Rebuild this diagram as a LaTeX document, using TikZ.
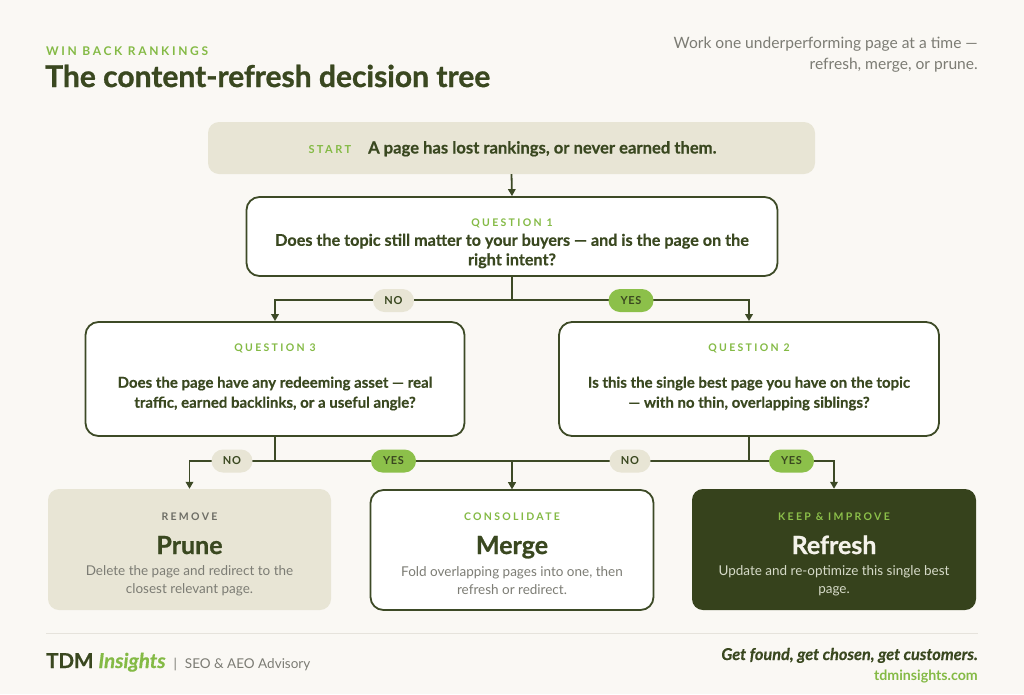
\documentclass[tikz,border=0pt]{standalone}
\usepackage{fontspec}
\setmainfont{Lato}
\usetikzlibrary{arrows.meta}
\definecolor{bg}{HTML}{FAF8F4}
\definecolor{dk}{HTML}{3A4820}
\definecolor{bd}{HTML}{3D4A26}
\definecolor{refill}{HTML}{36421C}
\definecolor{grn}{HTML}{84BA45}
\definecolor{pillg}{HTML}{8CC04A}
\definecolor{beige}{HTML}{E8E5D5}
\definecolor{gry}{HTML}{7C7C74}
\definecolor{gry2}{HTML}{6E6E66}
\definecolor{lt}{HTML}{D6DAC8}
\definecolor{ltw}{HTML}{F4F2EA}
\definecolor{rulec}{HTML}{E6E3DC}
\tikzset{
  qbox/.style={draw=bd, line width=1.8pt, fill=white, rounded corners=13pt, inner sep=0pt},
  sbox/.style={fill=beige, rounded corners=11pt, inner sep=0pt},
  conn/.style={draw=bd, line width=1.8pt},
  arr/.style={draw=bd, line width=1.8pt, -{Triangle[length=7pt,width=7.5pt]}},
  pill/.style={rounded corners=11.5pt, minimum height=23pt, inner sep=0pt, text=dk,
    font={\fontsize{11}{13}\selectfont\bfseries\addfontfeatures{LetterSpace=6}}},
  nopill/.style={pill, fill=beige, minimum width=41pt},
  yespill/.style={pill, fill=pillg, minimum width=45pt},
  caplab/.style={inner sep=0pt, anchor=base,
    font={\fontsize{10.5}{13}\selectfont\bfseries\addfontfeatures{LetterSpace=22}}},
  qtext/.style={inner sep=0pt, align=center, text=dk,
    font={\fontsize{15}{20}\selectfont\bfseries\addfontfeatures{FakeBold=0.4}}},
  ttl/.style={inner sep=0pt, anchor=base, font={\fontsize{25}{28}\selectfont\bfseries\addfontfeatures{FakeBold=0.8}}},
  desc/.style={inner sep=0pt, align=center, font={\fontsize{13.5}{18}\selectfont}},
}
\begin{document}
\begin{tikzpicture}[x=1pt,y=-1pt]
\fill[bg] (0,0) rectangle (1024,694);
\useasboundingbox (0,0) rectangle (1024,694);

% header
\node[inner sep=0pt, anchor=base west, text=grn,
  font={\fontsize{12}{14}\selectfont\bfseries\addfontfeatures{LetterSpace=22}}] (kicker) at (46,55) {WIN BACK RANKINGS};
\node[inner sep=0pt, anchor=base west, text=dk, font={\fontsize{30}{34}\selectfont\bfseries\addfontfeatures{FakeBold=1}}] (title) at (45,87) {The content-refresh decision tree};
\node[inner sep=0pt, anchor=base east, text=gry, font={\fontsize{15.6}{18}\selectfont}] (sub1) at (978,48) {Work one underperforming page at a time —};
\node[inner sep=0pt, anchor=base east, text=gry, font={\fontsize{15.6}{18}\selectfont}] (sub2) at (978,69) {refresh, merge, or prune.};

% boxes
\node[sbox, minimum width=607pt, minimum height=52pt] (start) at (511.5,148) {};
\node[inner sep=0pt, anchor=base, text=dk, font={\fontsize{16.6}{18}\selectfont\bfseries\addfontfeatures{FakeBold=0.4}}] (starttxt) at (512.5,153.5)
  {{\color{grn}\fontsize{11}{13}\selectfont\addfontfeatures{LetterSpace=22,FakeBold=0}START}\hspace{17pt}A page has lost rankings, or never earned them.};

\node[qbox, minimum width=531pt, minimum height=79pt] (q1) at (512,236.5) {};
\node[caplab, text=grn] (q1lab) at (512,226) {QUESTION 1};
\node[qtext, font={\fontsize{16.2}{19.5}\selectfont\bfseries\addfontfeatures{FakeBold=0.4}}] (q1txt) at (512,251) {Does the topic still matter to your buyers — and is the page on the\\right intent?};

\node[qbox, minimum width=379pt, minimum height=114pt] (q3) at (275,379) {};
\node[caplab, text=grn] (q3lab) at (275,351) {QUESTION 3};
\node[qtext] (q3txt) at (275,393.5) {Does the page have any redeeming asset — real\\traffic, earned backlinks, or a useful angle?};

\node[qbox, minimum width=380pt, minimum height=114pt] (q2) at (749,379) {};
\node[caplab, text=grn] (q2lab) at (749,351) {QUESTION 2};
\node[qtext] (q2txt) at (749,393.5) {Is this the single best page you have on the topic\\— with no thin, overlapping siblings?};

% outcomes
\node[sbox, minimum width=283pt, minimum height=121pt] (prune) at (189.5,549.5) {};
\node[caplab, text=gry2] (prunelab) at (189.5,520) {REMOVE};
\node[ttl, text=dk] (prunettl) at (189.5,554) {Prune};
\node[desc, text=gry] (prunedesc) at (189.5,581) {Delete the page and redirect to the\\closest relevant page.};

\node[qbox, minimum width=283pt, minimum height=120pt] (merge) at (512,550) {};
\node[caplab, text=grn] (mergelab) at (512,520) {CONSOLIDATE};
\node[ttl, text=dk] (mergettl) at (512,554) {Merge};
\node[desc, text=gry] (mergedesc) at (512,581) {Fold overlapping pages into one, then\\refresh or redirect.};

\node[fill=refill, rounded corners=11pt, inner sep=0pt, minimum width=284pt, minimum height=121pt] (refresh) at (834,549.5) {};
\node[caplab, text=pillg] (reflab) at (834,520) {KEEP \& IMPROVE};
\node[ttl, text=ltw] (refttl) at (834,554) {Refresh};
\node[desc, text=lt] (refdesc) at (834,581) {Update and re-optimize this single best\\page.};

% connectors
\draw[arr] (start.south) -- (q1.north);
\coordinate (j1) at (512,300);
\draw[conn] (q1.south) -- (j1);
\draw[arr] (j1) -| (q3.north);
\draw[arr] (j1) -| (q2.north);
\coordinate (j3) at (275,461);
\draw[conn] (q3.south) -- (j3);
\draw[arr] (j3) -| (prune.north);
\draw[arr] (j3) -| (merge.north);
\coordinate (j2) at (749,461);
\draw[conn] (q2.south) -- (j2);
\draw[arr] (j2) -| (merge.north);
\draw[arr] (j2) -| (refresh.north);

% pills
\node[nopill] (no1) at (393.5,300.5) {NO};
\node[yespill] (yes1) at (631,300.5) {YES};
\node[nopill] (no3) at (232,461) {NO};
\node[yespill] (yes3) at (393.5,461) {YES};
\node[nopill] (no2) at (630,461) {NO};
\node[yespill] (yes2) at (791.5,461) {YES};

% footer
\coordinate (rl) at (46,633);
\coordinate (rr) at (978,633);
\draw[rulec, line width=1pt] (rl) -- (rr);
\node[inner sep=0pt, anchor=base west, text=dk, font={\fontsize{20.5}{22}\selectfont\bfseries\addfontfeatures{FakeBold=0.6}}] (brand) at (46,668)
  {TDM {\color{grn}\itshape Insights}\hspace{8pt}{\color{gry}\mdseries\fontsize{13.5}{15}\selectfont\addfontfeatures{FakeBold=0}|\hspace{8pt}SEO \& AEO Advisory}};
\node[inner sep=0pt, anchor=base east, text=dk, font={\fontsize{16.3}{18}\selectfont\bfseries\itshape\addfontfeatures{FakeBold=0.4}}] (tag) at (978,660) {Get found, get chosen, get customers.};
\node[inner sep=0pt, anchor=base east, text=grn, font={\fontsize{14.2}{15}\selectfont\bfseries}] (url) at (978,680) {tdminsights.com};
\end{tikzpicture}
\end{document}
